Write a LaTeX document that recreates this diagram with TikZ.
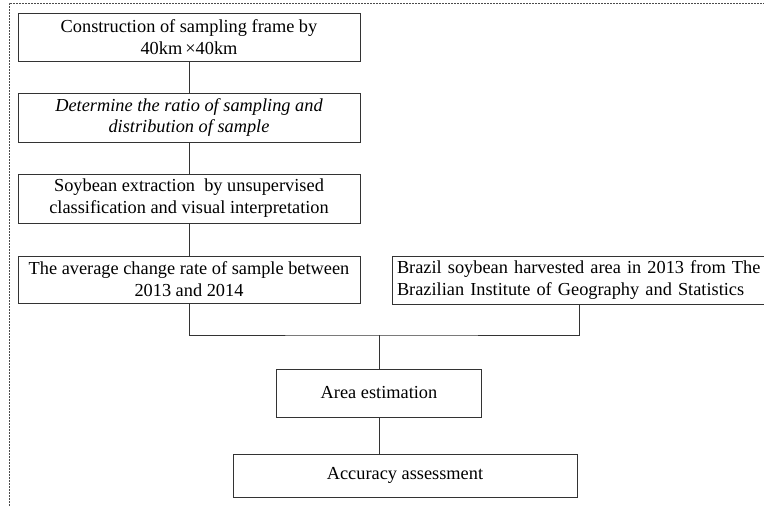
\documentclass[tikz,border=0pt]{standalone}
\usepackage{fontspec}
\setmainfont{Liberation Serif}
\begin{document}
\begin{tikzpicture}[x=1bp,y=-1bp,
  box/.style={draw=black!80, line width=0.8bp, inner sep=0pt, align=center,
    font=\fontsize{18.4}{22}\selectfont},
  conn/.style={draw=black!80, line width=0.8bp},
  frame/.style={draw=black!70, line width=0.8bp, dash pattern=on 2bp off 1bp}]
\useasboundingbox (0,0) rectangle (764,506);
\draw[frame] (9,506) -- (9,3) -- (764,3);
\node[box, minimum width=342bp, minimum height=48bp] (b1) at (189,37)
  {Construction of sampling frame by\\40km\,×40km};
\node[box, minimum width=342bp, minimum height=49bp, font=\fontsize{18.4}{22}\selectfont\itshape] (b2) at (189,117.5)
  {Determine the ratio of sampling and\\distribution of sample};
\node[box, minimum width=342bp, minimum height=49bp] (b3) at (189,198.5)
  {Soybean extraction\ \ by unsupervised\\classification and visual interpretation};
\node[box, minimum width=342bp, minimum height=47bp] (b4) at (189,279.5)
  {The average change rate of sample between\\2013 and 2014};
\node[box, minimum width=374bp, minimum height=48bp, align=left, text width=364bp] (b5) at (579,280)
  {Brazil soybean harvested area in 2013 from The\\Brazilian Institute of Geography and Statistics};
\node[box, minimum width=205bp, minimum height=48bp] (b6) at (379,393)
  {Area estimation};
\node[box, minimum width=344bp, minimum height=43bp] (b7) at (405,475.5)
  {Accuracy assessment};
\coordinate (j) at (379,335);
\draw[conn] (b1) -- (b2);
\draw[conn] (b2) -- (b3);
\draw[conn] (b3) -- (b4);
\draw[conn] (b4.south) |- (j) -| (b5.south);
\draw[conn] (j) -- (b6.north);
\draw[conn] (b6.south) -- (b6.south |- b7.north);
\end{tikzpicture}
\end{document}
